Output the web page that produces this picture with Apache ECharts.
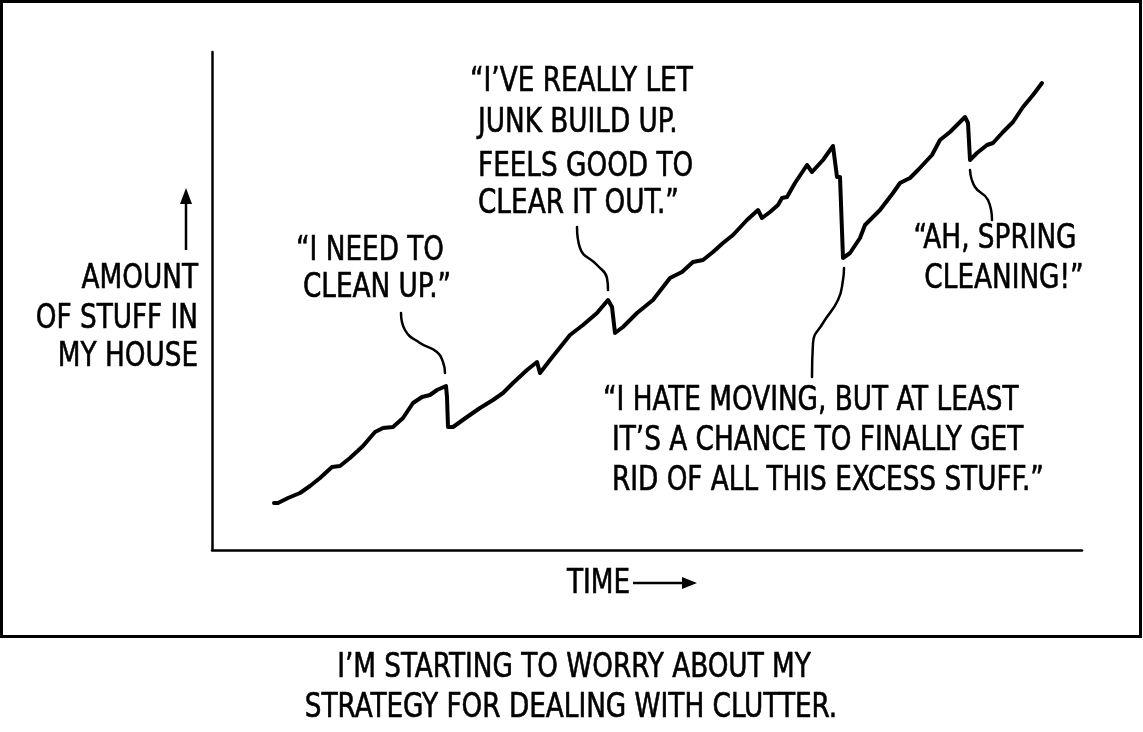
<!DOCTYPE html>
<html>
<head>
<meta charset="utf-8">
<script src="https://cdn.jsdelivr.net/npm/echarts@6/dist/echarts.min.js"></script>
<style>
html,body{margin:0;padding:0;background:#fff;}
#chart{width:1143px;height:732px;}
</style>
</head>
<body>
<div id="chart"></div>
<script>
// Time (arbitrary units) and amount of stuff (arbitrary units)
const timeValues = [62,66,76,88,98,108,120,128,138,151,163,171,181,191,201,210,218,225,234,235,236,241,248,255,268,281,291,301,315,325,328,338,346,350,358,371,385,396,400,403,411,425,441,458,470,481,491,501,511,521,535,546,550,558,566,570,575,583,595,600,611,621,625,628,631,638,648,653,658,668,681,688,698,706,720,728,738,753,756,758,765,775,781,791,801,811,821,830];
const stuffValues = [47,47,52,57,64,72,83,84,92,104,118,122,123,132,147,153,155,160,164,153,123,123,128,133,142,150,157,167,180,188,177,190,200,205,215,225,237,250,243,217,223,237,250,272,278,288,290,298,307,315,330,340,332,338,345,352,353,367,385,378,390,404,373,373,292,297,312,325,330,340,357,367,372,380,395,410,418,433,427,390,397,405,407,418,428,443,455,467];

// Leader lines from quotes to events (time, stuff)
const leaderCleanUp = [[189,237],[193,220],[208,207],[225,198],[231,188],[233,177]];
const leaderJunk = [[365,323],[368,302],[385,285],[395,272],[396,260]];
const leaderMoving = [[600,173],[601,207],[611,227],[626,250],[631,270],[632,282]];
const leaderSpring = [[758,380],[763,363],[776,350],[780,330]];

const yTitleLines = ['AMOUNT','OF STUFF IN','MY HOUSE'];
const xTitle = 'TIME';
const quoteCleanUp = ['\u201CI NEED TO','CLEAN UP.\u201D'];
const quoteJunk = ['\u201CI\u2019VE REALLY LET','JUNK BUILD UP.','FEELS GOOD TO','CLEAR IT OUT.\u201D'];
const quoteSpring = ['\u201CAH, SPRING','CLEANING!\u201D'];
const quoteMoving = ['\u201CI HATE MOVING, BUT AT LEAST','IT\u2019S A CHANCE TO FINALLY GET','RID OF ALL THIS EXCESS STUFF.\u201D'];
const captionLines = ['I\u2019M STARTING TO WORRY ABOUT MY','STRATEGY FOR DEALING WITH CLUTTER.'];

const FONT = '"Liberation Sans Narrow","DejaVu Sans Condensed","Liberation Sans",sans-serif';
const FS = 34;
const SX = 0.86;

function zip(a,b){return a.map((v,i)=>[v,b[i]]);}
function txt(text,x,y,align){
  return {type:'text',silent:true,x:x,y:y,scaleX:SX,
    style:{text:text,x:0,y:0,align:align||'left',verticalAlign:'middle',fontFamily:FONT,fontSize:FS,fill:'#000',stroke:'#000',lineWidth:0.6}};
}
function leader(data){
  return {type:'line',data:data,smooth:0.5,showSymbol:false,silent:true,
    lineStyle:{color:'#000',width:2.5,cap:'round'},z:3};
}

const graphics = [
  {type:'rect',silent:true,shape:{x:1.5,y:1.5,width:1139,height:635},style:{fill:'none',stroke:'#000',lineWidth:3}},
  // y arrow
  {type:'line',silent:true,shape:{x1:186,y1:250,x2:186,y2:198},style:{stroke:'#000',lineWidth:2.5}},
  {type:'polygon',silent:true,shape:{points:[[186,188],[180,204],[192,204]]},style:{fill:'#000'}},
  // x arrow
  {type:'line',silent:true,shape:{x1:633,y1:583,x2:688,y2:583},style:{stroke:'#000',lineWidth:2.5}},
  {type:'polygon',silent:true,shape:{points:[[697,583],[682,577],[682,589]]},style:{fill:'#000'}},
  txt(yTitleLines[0],198,279,'right'),
  txt(yTitleLines[1],198,319,'right'),
  txt(yTitleLines[2],198,357,'right'),
  txt(xTitle,567,584,'left'),
  txt(quoteCleanUp[0],370,251,'center'),
  txt(quoteCleanUp[1],377,288,'center'),
  txt(quoteJunk[0],470,82,'left'),
  txt(quoteJunk[1],478,123,'left'),
  txt(quoteJunk[2],478,167,'left'),
  txt(quoteJunk[3],478,204,'left'),
  txt(quoteSpring[0],995,239,'center'),
  txt(quoteSpring[1],1004,279,'center'),
  txt(quoteMoving[0],603,401,'left'),
  txt(quoteMoving[1],612,441,'left'),
  txt(quoteMoving[2],612,481,'left'),
  txt(captionLines[0],574,668,'center'),
  txt(captionLines[1],571,708,'center')
];

const chart = echarts.init(document.getElementById('chart'),null,{renderer:'canvas'});
chart.setOption({
  animation:false,
  backgroundColor:'#fff',
  grid:{left:212,right:61,top:52,bottom:182},
  xAxis:{type:'value',min:0,max:870,axisLine:{lineStyle:{color:'#000',width:2.5}},axisTick:{show:false},axisLabel:{show:false},splitLine:{show:false}},
  yAxis:{type:'value',min:0,max:498,axisLine:{show:true,lineStyle:{color:'#000',width:2.5}},axisTick:{show:false},axisLabel:{show:false},splitLine:{show:false}},
  series:[
    {type:'line',data:zip(timeValues,stuffValues),showSymbol:false,silent:true,
      lineStyle:{color:'#000',width:4,join:'round',cap:'round'},z:4},
    leader(leaderCleanUp),leader(leaderJunk),leader(leaderMoving),leader(leaderSpring)
  ],
  graphic:graphics
});
</script>
</body>
</html>
